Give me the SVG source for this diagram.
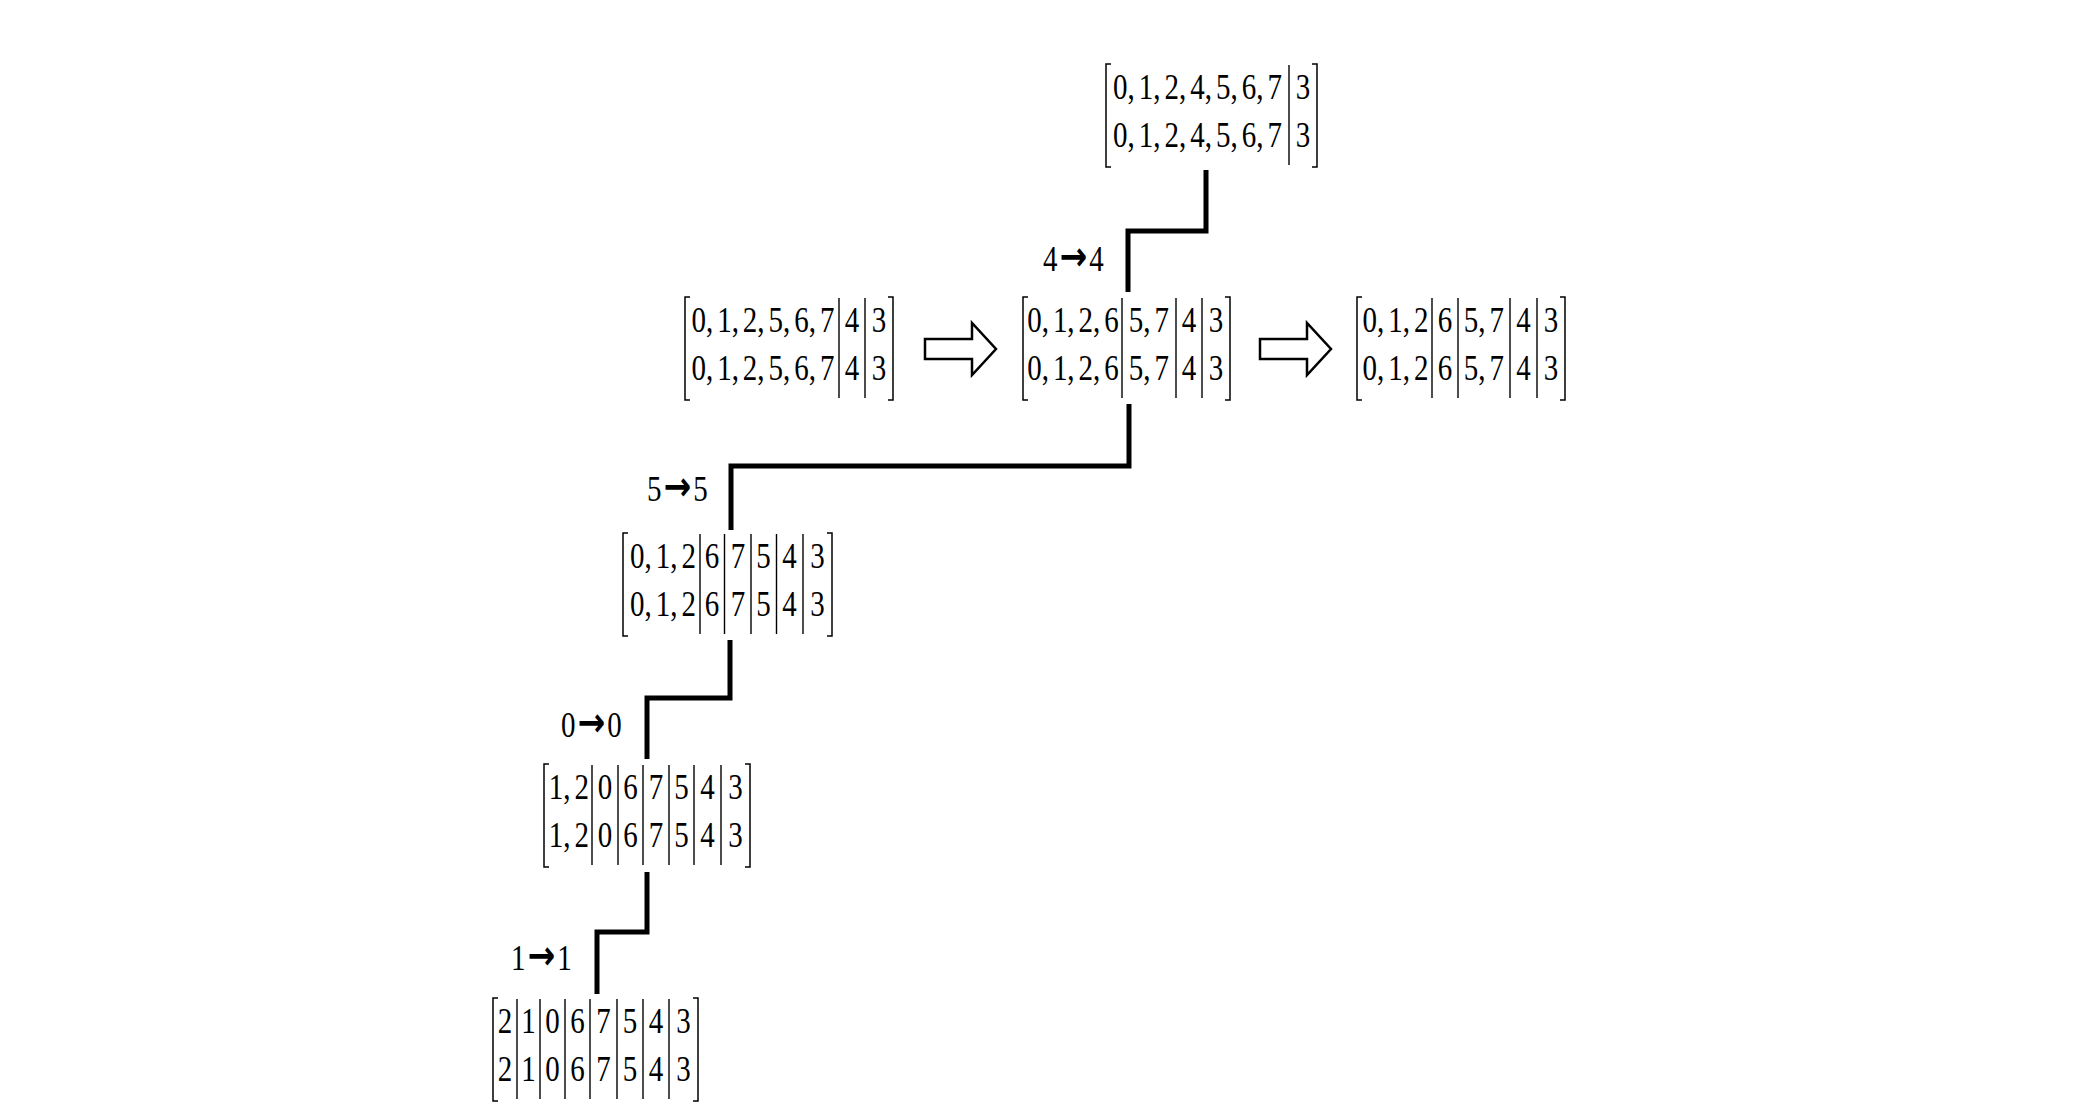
<svg xmlns="http://www.w3.org/2000/svg" width="2100" height="1120" viewBox="0 0 2100 1120">
<style>
.t{font-family:"Liberation Serif","Times New Roman",serif;font-size:29px;fill:#000;text-anchor:middle}
.l{font-family:"Liberation Serif","Times New Roman",serif;font-size:29px;fill:#000}
.ar{font-family:"DejaVu Sans",sans-serif;font-weight:bold;font-size:33px}
.br{fill:none;stroke:#000;stroke-width:1.5}
.bar{stroke:#000;stroke-width:1.4}
.con{fill:none;stroke:#000;stroke-width:5;stroke-linejoin:miter;stroke-linecap:butt}
.big{fill:#fff;stroke:#000;stroke-width:2.5;stroke-linejoin:miter}
</style>
<rect width="2100" height="1120" fill="#fff"/>

<g id="connectors">
<polyline class="con" points="1206,170 1206,231 1128,231 1128,292"/>
<polyline class="con" points="1129,404 1129,466 731,466 731,530"/>
<polyline class="con" points="730,640 730,698 647,698 647,759"/>
<polyline class="con" points="647,872 647,932 597,932 597,994"/>
<path class="big" d="M925,339 H972 V323 L996,349 L972,375 V359 H925 Z"/>
<path class="big" d="M1260,339 H1307 V323 L1331,349 L1307,375 V359 H1260 Z"/>
</g>

<g id="labels">
<g transform="matrix(1 0 0 1.22 0 271)"><text class="l" x="1043" y="0">4<tspan class="ar" dx="2" dy="-1">→</tspan><tspan dx="2" dy="1">4</tspan></text></g>
<g transform="matrix(1 0 0 1.22 0 501)"><text class="l" x="647" y="0">5<tspan class="ar" dx="2" dy="-1">→</tspan><tspan dx="2" dy="1">5</tspan></text></g>
<g transform="matrix(1 0 0 1.22 0 737)"><text class="l" x="561" y="0">0<tspan class="ar" dx="2" dy="-1">→</tspan><tspan dx="2" dy="1">0</tspan></text></g>
<g transform="matrix(1 0 0 1.22 0 970)"><text class="l" x="511" y="0">1<tspan class="ar" dx="2" dy="-1">→</tspan><tspan dx="2" dy="1">1</tspan></text></g>
</g>

<g id="nodeT">
<path class="br" d="M1111,64 H1106 V167 H1111 M1312,64 H1317 V167 H1312"/>
<line class="bar" x1="1289" y1="65" x2="1289" y2="165"/>
<g transform="matrix(1 0 0 1.22 0 99)">
<text class="t" x="1197.5" y="0">0,<tspan dx="4">1,</tspan><tspan dx="4">2,</tspan><tspan dx="4">4,</tspan><tspan dx="4">5,</tspan><tspan dx="4">6,</tspan><tspan dx="4">7</tspan></text>
<text class="t" x="1303" y="0">3</text>
</g>
<g transform="matrix(1 0 0 1.22 0 147)">
<text class="t" x="1197.5" y="0">0,<tspan dx="4">1,</tspan><tspan dx="4">2,</tspan><tspan dx="4">4,</tspan><tspan dx="4">5,</tspan><tspan dx="4">6,</tspan><tspan dx="4">7</tspan></text>
<text class="t" x="1303" y="0">3</text>
</g>
</g>

<g id="nodeA">
<path class="br" d="M690,297 H685 V400 H690 M888,297 H893 V400 H888"/>
<line class="bar" x1="839" y1="298" x2="839" y2="398"/>
<line class="bar" x1="865" y1="298" x2="865" y2="398"/>
<g transform="matrix(1 0 0 1.22 0 332)">
<text class="t" x="763" y="0">0,<tspan dx="4">1,</tspan><tspan dx="4">2,</tspan><tspan dx="4">5,</tspan><tspan dx="4">6,</tspan><tspan dx="4">7</tspan></text>
<text class="t" x="852" y="0">4</text><text class="t" x="879" y="0">3</text>
</g>
<g transform="matrix(1 0 0 1.22 0 380)">
<text class="t" x="763" y="0">0,<tspan dx="4">1,</tspan><tspan dx="4">2,</tspan><tspan dx="4">5,</tspan><tspan dx="4">6,</tspan><tspan dx="4">7</tspan></text>
<text class="t" x="852" y="0">4</text><text class="t" x="879" y="0">3</text>
</g>
</g>

<g id="nodeB">
<path class="br" d="M1028,297 H1023 V400 H1028 M1225,297 H1230 V400 H1225"/>
<line class="bar" x1="1122" y1="298" x2="1122" y2="398"/>
<line class="bar" x1="1176" y1="298" x2="1176" y2="398"/>
<line class="bar" x1="1202" y1="298" x2="1202" y2="398"/>
<g transform="matrix(1 0 0 1.22 0 332)">
<text class="t" x="1073" y="0">0,<tspan dx="4">1,</tspan><tspan dx="4">2,</tspan><tspan dx="4">6</tspan></text>
<text class="t" x="1149" y="0">5,<tspan dx="4">7</tspan></text>
<text class="t" x="1189" y="0">4</text><text class="t" x="1216" y="0">3</text>
</g>
<g transform="matrix(1 0 0 1.22 0 380)">
<text class="t" x="1073" y="0">0,<tspan dx="4">1,</tspan><tspan dx="4">2,</tspan><tspan dx="4">6</tspan></text>
<text class="t" x="1149" y="0">5,<tspan dx="4">7</tspan></text>
<text class="t" x="1189" y="0">4</text><text class="t" x="1216" y="0">3</text>
</g>
</g>

<g id="nodeC">
<path class="br" d="M1362,297 H1357 V400 H1362 M1560,297 H1565 V400 H1560"/>
<line class="bar" x1="1432" y1="298" x2="1432" y2="398"/>
<line class="bar" x1="1458" y1="298" x2="1458" y2="398"/>
<line class="bar" x1="1510" y1="298" x2="1510" y2="398"/>
<line class="bar" x1="1537" y1="298" x2="1537" y2="398"/>
<g transform="matrix(1 0 0 1.22 0 332)">
<text class="t" x="1395.5" y="0">0,<tspan dx="4">1,</tspan><tspan dx="4">2</tspan></text>
<text class="t" x="1445" y="0">6</text>
<text class="t" x="1484" y="0">5,<tspan dx="4">7</tspan></text>
<text class="t" x="1523.5" y="0">4</text><text class="t" x="1551" y="0">3</text>
</g>
<g transform="matrix(1 0 0 1.22 0 380)">
<text class="t" x="1395.5" y="0">0,<tspan dx="4">1,</tspan><tspan dx="4">2</tspan></text>
<text class="t" x="1445" y="0">6</text>
<text class="t" x="1484" y="0">5,<tspan dx="4">7</tspan></text>
<text class="t" x="1523.5" y="0">4</text><text class="t" x="1551" y="0">3</text>
</g>
</g>

<g id="nodeD1">
<path class="br" d="M628,533 H623 V636 H628 M827,533 H832 V636 H827"/>
<line class="bar" x1="700" y1="534" x2="700" y2="634"/>
<line class="bar" x1="724.5" y1="534" x2="724.5" y2="634"/>
<line class="bar" x1="751" y1="534" x2="751" y2="634"/>
<line class="bar" x1="776.5" y1="534" x2="776.5" y2="634"/>
<line class="bar" x1="803" y1="534" x2="803" y2="634"/>
<g transform="matrix(1 0 0 1.22 0 568)">
<text class="t" x="663" y="0">0,<tspan dx="4">1,</tspan><tspan dx="4">2</tspan></text>
<text class="t" x="712" y="0">6</text><text class="t" x="738" y="0">7</text><text class="t" x="763.5" y="0">5</text><text class="t" x="789.5" y="0">4</text><text class="t" x="817.5" y="0">3</text>
</g>
<g transform="matrix(1 0 0 1.22 0 616)">
<text class="t" x="663" y="0">0,<tspan dx="4">1,</tspan><tspan dx="4">2</tspan></text>
<text class="t" x="712" y="0">6</text><text class="t" x="738" y="0">7</text><text class="t" x="763.5" y="0">5</text><text class="t" x="789.5" y="0">4</text><text class="t" x="817.5" y="0">3</text>
</g>
</g>

<g id="nodeD2">
<path class="br" d="M549,764 H544 V867 H549 M745,764 H750 V867 H745"/>
<line class="bar" x1="592" y1="765" x2="592" y2="865"/>
<line class="bar" x1="618" y1="765" x2="618" y2="865"/>
<line class="bar" x1="643" y1="765" x2="643" y2="865"/>
<line class="bar" x1="669" y1="765" x2="669" y2="865"/>
<line class="bar" x1="694" y1="765" x2="694" y2="865"/>
<line class="bar" x1="721" y1="765" x2="721" y2="865"/>
<g transform="matrix(1 0 0 1.22 0 799)">
<text class="t" x="569" y="0">1,<tspan dx="4">2</tspan></text>
<text class="t" x="605" y="0">0</text><text class="t" x="630.5" y="0">6</text><text class="t" x="656" y="0">7</text><text class="t" x="681.5" y="0">5</text><text class="t" x="707.5" y="0">4</text><text class="t" x="735.5" y="0">3</text>
</g>
<g transform="matrix(1 0 0 1.22 0 847)">
<text class="t" x="569" y="0">1,<tspan dx="4">2</tspan></text>
<text class="t" x="605" y="0">0</text><text class="t" x="630.5" y="0">6</text><text class="t" x="656" y="0">7</text><text class="t" x="681.5" y="0">5</text><text class="t" x="707.5" y="0">4</text><text class="t" x="735.5" y="0">3</text>
</g>
</g>

<g id="nodeD3">
<path class="br" d="M498,998 H493 V1101 H498 M693,998 H698 V1101 H693"/>
<line class="bar" x1="517" y1="999" x2="517" y2="1099"/>
<line class="bar" x1="540" y1="999" x2="540" y2="1099"/>
<line class="bar" x1="565" y1="999" x2="565" y2="1099"/>
<line class="bar" x1="590" y1="999" x2="590" y2="1099"/>
<line class="bar" x1="617" y1="999" x2="617" y2="1099"/>
<line class="bar" x1="643" y1="999" x2="643" y2="1099"/>
<line class="bar" x1="669" y1="999" x2="669" y2="1099"/>
<g transform="matrix(1 0 0 1.22 0 1033)">
<text class="t" x="505" y="0">2</text><text class="t" x="528.5" y="0">1</text><text class="t" x="552.5" y="0">0</text><text class="t" x="577.5" y="0">6</text><text class="t" x="603.5" y="0">7</text><text class="t" x="630" y="0">5</text><text class="t" x="656" y="0">4</text><text class="t" x="683.5" y="0">3</text>
</g>
<g transform="matrix(1 0 0 1.22 0 1081)">
<text class="t" x="505" y="0">2</text><text class="t" x="528.5" y="0">1</text><text class="t" x="552.5" y="0">0</text><text class="t" x="577.5" y="0">6</text><text class="t" x="603.5" y="0">7</text><text class="t" x="630" y="0">5</text><text class="t" x="656" y="0">4</text><text class="t" x="683.5" y="0">3</text>
</g>
</g>
</svg>
